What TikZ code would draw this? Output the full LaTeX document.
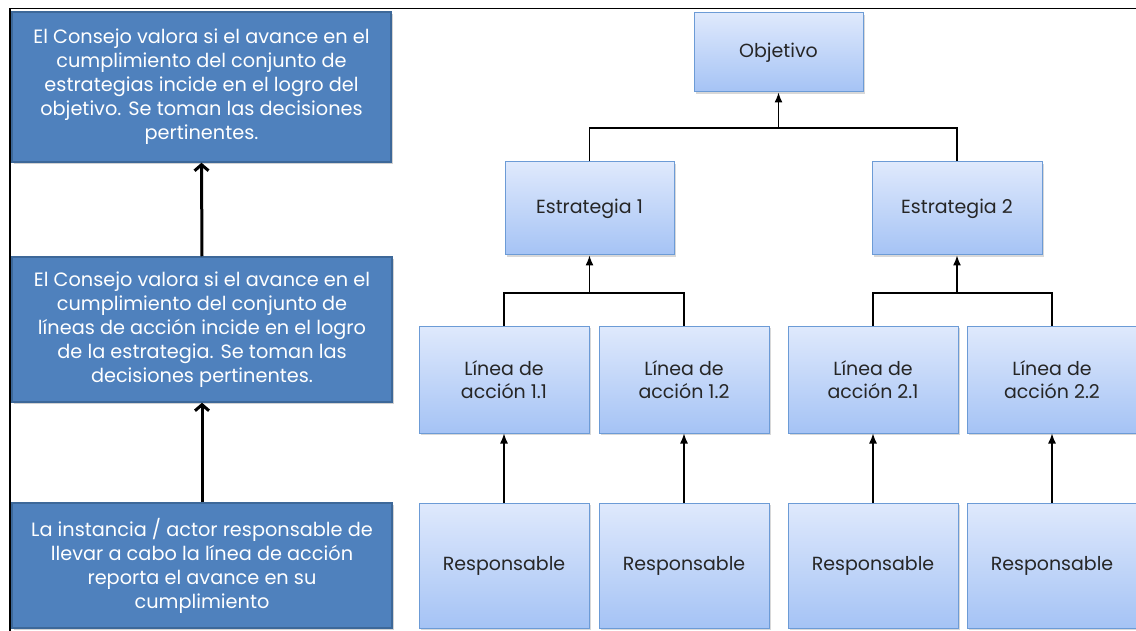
\documentclass[tikz,border=0pt]{standalone}
\usepackage{fontspec}
\setmainfont{Poppins}
\usetikzlibrary{shadows,arrows.meta}
\definecolor{darkbox}{HTML}{4F81BD}
\definecolor{darkedge}{HTML}{3D6899}
\definecolor{lighttop}{HTML}{DFE9FC}
\definecolor{lightbot}{HTML}{A5C3F5}
\definecolor{lightedge}{HTML}{6C9BD6}
\begin{document}
\begin{tikzpicture}[x=1pt,y=-1pt,
  darkstep/.style={draw=darkedge, line width=1.5pt, fill=darkbox, text=white,
    font=\fontsize{19.3}{24}\selectfont, align=center, inner sep=0pt,
    drop shadow={opacity=0.35, shadow xshift=1.5pt, shadow yshift=-2pt}},
  lightstep/.style={draw=lightedge, line width=1pt, top color=lighttop, bottom color=lightbot,
    font=\fontsize{19}{23}\selectfont, align=center, inner sep=0pt, text=black!85,
    drop shadow={opacity=0.3, shadow xshift=1.5pt, shadow yshift=-2pt}},
  bigarrow/.style={line width=3pt, -{Straight Barb[length=6pt,width=14pt,line width=3pt]}},
  smallarrow/.style={line width=1.3pt, -{Latex[length=10pt,width=8pt]}},
  tree/.style={line width=1.3pt}
]
\useasboundingbox (0,0) rectangle (1136,631);
\fill[white] (0,0) rectangle (1136,631);
% frame
\draw[line width=1.8pt] (10,631) -- (10,8.5) -- (1136,8.5);

% left column
\node[darkstep, minimum width=379pt, minimum height=150pt] (c1) at (201.5,87)
  {El Consejo valora si el avance en el\\cumplimiento del conjunto de\\estrategias incide en el logro del\\objetivo. Se toman las decisiones\\pertinentes.};
\node[darkstep, minimum width=380pt, minimum height=145pt] (c2) at (202,329.5)
  {El Consejo valora si el avance en el\\cumplimiento del conjunto de\\líneas de acción incide en el logro\\de la estrategia. Se toman las\\decisiones pertinentes.};
\node[darkstep, minimum width=380pt, minimum height=125pt] (c3) at (202,565.5)
  {La instancia / actor responsable de\\llevar a cabo la línea de acción\\reporta el avance en su\\cumplimiento};
\draw[bigarrow] (c2.north) -- (c1.south);
\draw[bigarrow] (c3.north) -- (c2.north |- c2.south);

% right tree
\node[lightstep, minimum width=169pt, minimum height=79pt] (obj) at (778.5,52.5) {Objetivo};
\node[lightstep, minimum width=169pt, minimum height=93pt] (e1) at (589.5,208.5) {Estrategia 1};
\node[lightstep, minimum width=170pt, minimum height=93pt] (e2) at (957,208.5) {Estrategia 2};

\node[lightstep, minimum width=170pt, minimum height=107pt] (l11) at (504,379.5) {Línea de\\acción 1.1};
\node[lightstep, minimum width=170pt, minimum height=107pt] (l12) at (684,379.5) {Línea de\\acción 1.2};
\node[lightstep, minimum width=170pt, minimum height=107pt] (l21) at (873,379.5) {Línea de\\acción 2.1};
\node[lightstep, minimum width=170pt, minimum height=107pt] (l22) at (1052,379.5) {Línea de\\acción 2.2};

\node[lightstep, minimum width=170pt, minimum height=125pt] (r11) at (504,565.5) {Responsable};
\node[lightstep, minimum width=170pt, minimum height=125pt] (r12) at (684,565.5) {Responsable};
\node[lightstep, minimum width=170pt, minimum height=125pt] (r21) at (873,565.5) {Responsable};
\node[lightstep, minimum width=170pt, minimum height=125pt] (r22) at (1052,565.5) {Responsable};

\coordinate (j0) at (778.5,128);
\coordinate (j1) at (589.5,293);
\coordinate (j2) at (957,293);

\draw[tree] (e1.north) |- (j0) -| (e2.north);
\draw[smallarrow] (j0) -- (obj.south);
\draw[tree] (l11.north) |- (j1) -| (l12.north);
\draw[smallarrow] (j1) -- (e1.south);
\draw[tree] (l21.north) |- (j2) -| (l22.north);
\draw[smallarrow] (j2) -- (e2.south);

\draw[smallarrow] (r11.north) -- (l11.south);
\draw[smallarrow] (r12.north) -- (l12.south);
\draw[smallarrow] (r21.north) -- (l21.south);
\draw[smallarrow] (r22.north) -- (l22.south);
\end{tikzpicture}
\end{document}
